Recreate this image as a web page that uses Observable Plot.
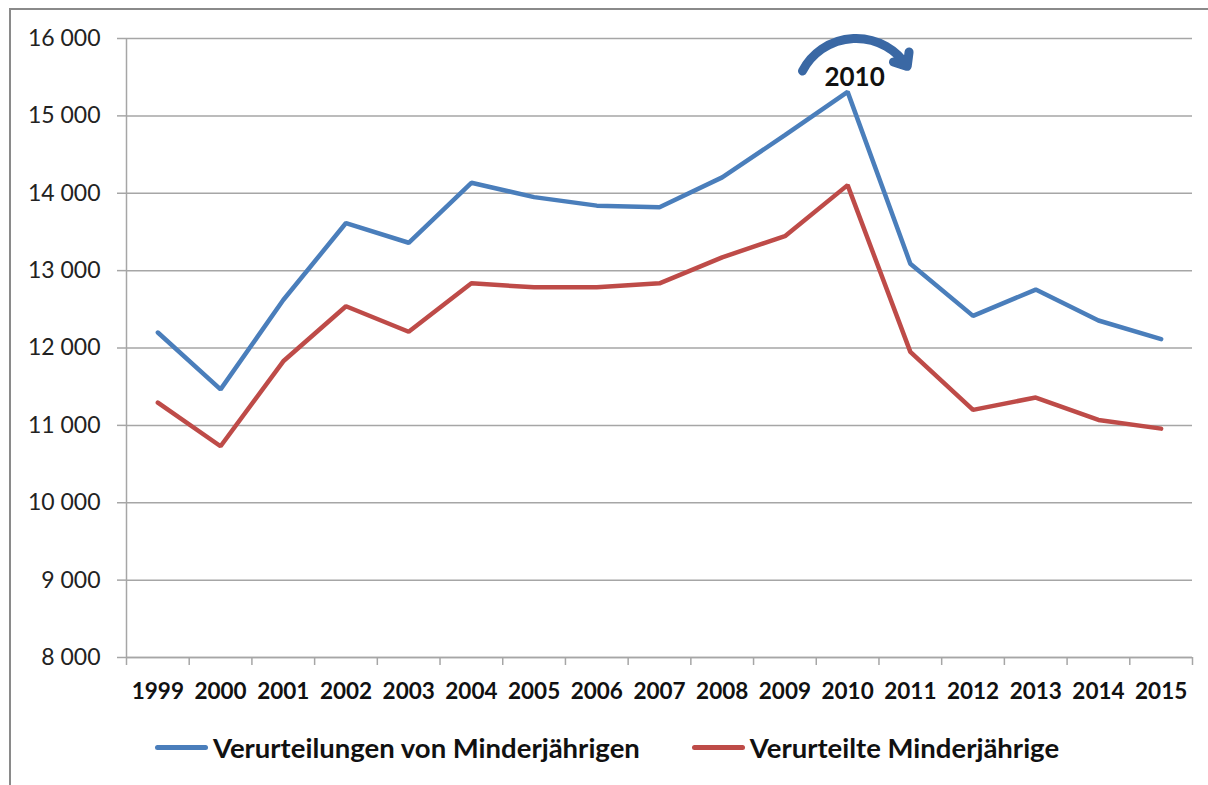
<!DOCTYPE html>
<html><head><meta charset="utf-8">
<script src="https://cdn.jsdelivr.net/npm/d3@7"></script>
<script src="https://cdn.jsdelivr.net/npm/@observablehq/plot@0.6"></script>
<style>
body{margin:0;background:#fff;font-family:Lato, sans-serif;}
#frame{position:absolute;left:9px;top:8px;width:1300px;height:900px;border:2px solid #8a8a8a;box-sizing:border-box;}
#chart{position:absolute;left:0;top:0;}
#legend{position:absolute;top:731px;left:155px;display:flex;font-weight:bold;font-size:27.5px;color:#111;white-space:nowrap;}
.item{display:flex;align-items:center;margin-right:52px;}
.swatch{width:53px;height:5px;border-radius:3px;margin-right:5px;}
</style></head><body>
<div id="frame"></div><div id="chart"></div><div id="legend"></div>
<script>
const years = [1999,2000,2001,2002,2003,2004,2005,2006,2007,2008,2009,2010,2011,2012,2013,2014,2015];
const seriesNames = ["Verurteilungen von Minderjährigen", "Verurteilte Minderjährige"];
const verurteilungen = [12200,11465,12620,13615,13360,14135,13950,13840,13820,14205,14750,15310,13090,12415,12755,12355,12115];
const verurteilte = [11295,10730,11828,12540,12210,12836,12784,12784,12836,13172,13445,14105,11950,11200,11360,11070,10958];
const seriesColors = ["#4A7EBB", "#BE4B48"];
const yTicks = [8000,9000,10000,11000,12000,13000,14000,15000,16000];
const highlightYear = 2010;

const rows = years.flatMap((yr, i) => [
  {year: yr, value: verurteilungen[i], series: seriesNames[0]},
  {year: yr, value: verurteilte[i], series: seriesNames[1]}
]);
const boundaries = d3.range(years.length + 1).map(i => years[0] - 0.5 + i);
const fmt = d3.formatLocale({decimal: ",", thousands: " ", grouping: [3], currency: ["", "€"]}).format(",");
const grid = "#a6a6a6";

const annotation = [{x1: highlightYear - 0.72, y1: 15580, x2: highlightYear + 0.95, y2: 15640}];

const chart = Plot.plot({
  width: 1208, height: 720,
  marginLeft: 126, marginRight: 16, marginTop: 38, marginBottom: 63,
  x: {domain: [years[0] - 0.5, years[years.length - 1] + 0.5]},
  y: {domain: [8000, 16000]},
  color: {domain: seriesNames, range: seriesColors},
  style: {fontFamily: "Lato, sans-serif", color: "#222", background: "transparent"},
  marks: [
    Plot.gridY(yTicks, {stroke: grid, strokeOpacity: 1, strokeWidth: 1.5}),
    Plot.axisY(yTicks, {tickFormat: fmt, tickSize: 9, tickPadding: 17, stroke: grid, strokeWidth: 1.5, fontSize: 23, label: null, fill: "#222"}),
    Plot.ruleX([years[0] - 0.5], {stroke: grid, strokeWidth: 1.5}),
    Plot.ruleY([8000], {stroke: grid, strokeWidth: 1.5}),
    Plot.axisX(boundaries, {tickFormat: () => "", tickSize: 8, stroke: grid, strokeWidth: 1.5, label: null}),
    Plot.text(years, {x: d => d, text: d => String(d), frameAnchor: "bottom", dy: 41, fontWeight: "bold", fontSize: 22.5, fill: "#111"}),
    Plot.line(rows, {x: "year", y: "value", stroke: "series", strokeWidth: 4.5, strokeLinejoin: "miter", strokeLinecap: "round"}),
    Plot.arrow(annotation, {x1: "x1", y1: "y1", x2: "x2", y2: "y2", bend: 60, stroke: "#3A68A4", strokeWidth: 9, headLength: 2.4, headAngle: 80}),
    Plot.text([highlightYear], {x: d => d, y: () => 15495, dx: 7, text: d => String(d), fontWeight: "bold", fontSize: 26, fill: "#111"})
  ]
});
document.getElementById("chart").appendChild(chart);

const legend = document.getElementById("legend");
seriesNames.forEach((name, i) => {
  const item = document.createElement("div");
  item.className = "item";
  const sw = document.createElement("div");
  sw.className = "swatch";
  sw.style.background = seriesColors[i];
  const label = document.createElement("span");
  label.textContent = name;
  item.appendChild(sw); item.appendChild(label);
  legend.appendChild(item);
});
</script>
</body></html>
